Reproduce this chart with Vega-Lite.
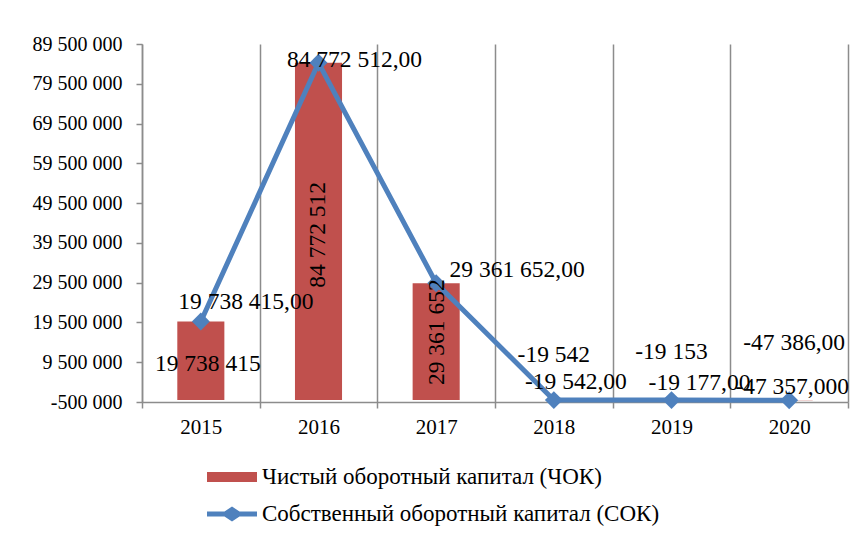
{
  "$schema": "https://vega.github.io/schema/vega-lite/v6.json",
  "width": 706,
  "height": 358,
  "autosize": {"type": "none"},
  "padding": {"left": 142, "top": 44, "right": 15, "bottom": 143},
  "background": "white",
  "config": {
    "locale": {"number": {"decimal": ",", "thousands": " ", "grouping": [3], "currency": ["", ""], "minus": "-"}},
    "view": {"stroke": null},
    "font": "Liberation Serif",
    "text": {"font": "Liberation Serif", "fontSize": 23.5, "color": "black"},
    "axis": {
      "labelFont": "Liberation Serif",
      "labelFontSize": 21,
      "labelColor": "black",
      "domainColor": "#8c8c8c",
      "domainWidth": 1.5,
      "tickColor": "#8c8c8c",
      "tickWidth": 1.5,
      "tickSize": 6,
      "labelOverlap": false,
      "title": null
    }
  },
  "data": {
    "values": [
      {"year": "2015", "series": "Чистый оборотный капитал (ЧОК)", "value": 19738415},
      {"year": "2016", "series": "Чистый оборотный капитал (ЧОК)", "value": 84772512},
      {"year": "2017", "series": "Чистый оборотный капитал (ЧОК)", "value": 29361652},
      {"year": "2018", "series": "Чистый оборотный капитал (ЧОК)", "value": -19542},
      {"year": "2019", "series": "Чистый оборотный капитал (ЧОК)", "value": -19153},
      {"year": "2020", "series": "Чистый оборотный капитал (ЧОК)", "value": -47357},
      {"year": "2015", "series": "Собственный оборотный капитал (СОК)", "value": 19738415},
      {"year": "2016", "series": "Собственный оборотный капитал (СОК)", "value": 84772512},
      {"year": "2017", "series": "Собственный оборотный капитал (СОК)", "value": 29361652},
      {"year": "2018", "series": "Собственный оборотный капитал (СОК)", "value": -19542},
      {"year": "2019", "series": "Собственный оборотный капитал (СОК)", "value": -19177},
      {"year": "2020", "series": "Собственный оборотный капитал (СОК)", "value": -47386}
    ]
  },
  "encoding": {
    "x": {
      "field": "year",
      "type": "nominal",
      "sort": null,
      "scale": {"paddingInner": 0, "paddingOuter": 0},
      "axis": {
        "title": null,
        "labelAngle": 0,
        "tickBand": "extent",
        "grid": true,
        "gridColor": "#8c8c8c",
        "gridWidth": 1.5,
        "labelPadding": 8
      }
    },
    "y": {
      "field": "value",
      "type": "quantitative",
      "scale": {"domain": [-500000, 89500000], "nice": false, "zero": false},
      "axis": {
        "title": null,
        "grid": false,
        "values": [-500000, 9500000, 19500000, 29500000, 39500000, 49500000, 59500000, 69500000, 79500000, 89500000],
        "format": ",d",
        "labelOverlap": false,
        "labelFont": "Liberation Serif",
        "labelFontSize": 20,
        "labelPadding": 14
      }
    }
  },
  "layer": [
    {
      "transform": [{"filter": "test(/ЧОК/, datum.series)"}],
      "mark": {"type": "bar", "width": {"band": 0.4}},
      "encoding": {
        "color": {
          "field": "series",
          "type": "nominal",
          "scale": {
            "domain": ["Чистый оборотный капитал (ЧОК)", "Собственный оборотный капитал (СОК)"],
            "range": ["#C0504D", "#4F81BD"]
          },
          "legend": {
            "orient": "none",
            "legendX": 65,
            "legendY": 408,
            "title": null,
            "padding": 0,
            "labelFont": "Liberation Serif",
            "labelFontSize": 23,
            "labelColor": "black",
            "labelLimit": 0,
            "labelOffset": 5,
            "symbolSize": 2500,
            "rowPadding": 0,
            "encode": {
              "symbols": {
                "update": {
                  "shape": {"signal": "test(/ЧОК/, datum.value) ? 'M-1,-0.2H1V0.2H-1Z' : 'M-1,-0.1H-0.3L0,-0.3L0.3,-0.1H1V0.1H0.3L0,0.3L-0.3,0.1H-1Z'"},
                  "fill": {"signal": "scale('color', datum.value)"},
                  "fillOpacity": {"value": 1},
                  "opacity": {"value": 1},
                  "stroke": {"value": "transparent"},
                  "strokeWidth": {"value": 0}
                }
              }
            }
          }
        }
      }
    },
    {
      "transform": [{"filter": "test(/СОК/, datum.series)"}],
      "mark": {"type": "line", "strokeWidth": 5, "point": {"shape": "diamond", "size": 320, "filled": true}},
      "encoding": {
        "color": {"field": "series", "type": "nominal"}
      }
    },
    {
      "transform": [{"filter": "test(/ЧОК/, datum.series) && datum.year == '2015'"}],
      "mark": {"type": "text", "dx": 7, "dy": 43},
      "encoding": {"text": {"field": "value", "type": "quantitative", "format": ",d"}}
    },
    {
      "transform": [{"filter": "test(/ЧОК/, datum.series) && datum.year == '2016'"}],
      "mark": {"type": "text", "angle": 270, "dx": -172, "dy": -1},
      "encoding": {"text": {"field": "value", "type": "quantitative", "format": ",d"}}
    },
    {
      "transform": [{"filter": "test(/ЧОК/, datum.series) && datum.year == '2017'"}],
      "mark": {"type": "text", "angle": 270, "dx": -49, "dy": 1},
      "encoding": {"text": {"field": "value", "type": "quantitative", "format": ",d"}}
    },
    {
      "transform": [{"filter": "test(/ЧОК/, datum.series) && datum.year == '2018'"}],
      "mark": {"type": "text", "dx": 0, "dy": -45},
      "encoding": {"text": {"field": "value", "type": "quantitative", "format": ",d"}}
    },
    {
      "transform": [{"filter": "test(/ЧОК/, datum.series) && datum.year == '2019'"}],
      "mark": {"type": "text", "dx": 0, "dy": -48},
      "encoding": {"text": {"field": "value", "type": "quantitative", "format": ",d"}}
    },
    {
      "transform": [{"filter": "test(/ЧОК/, datum.series) && datum.year == '2020'"}],
      "mark": {"type": "text", "dx": 3, "dy": -13},
      "encoding": {"text": {"field": "value", "type": "quantitative", "format": ",.3f"}}
    },
    {
      "transform": [{"filter": "test(/СОК/, datum.series) && datum.year == '2015'"}],
      "mark": {"type": "text", "dx": 45, "dy": -19},
      "encoding": {"text": {"field": "value", "type": "quantitative", "format": ",.2f"}}
    },
    {
      "transform": [{"filter": "test(/СОК/, datum.series) && datum.year == '2016'"}],
      "mark": {"type": "text", "dx": 36, "dy": -3},
      "encoding": {"text": {"field": "value", "type": "quantitative", "format": ",.2f"}}
    },
    {
      "transform": [{"filter": "test(/СОК/, datum.series) && datum.year == '2017'"}],
      "mark": {"type": "text", "dx": 81, "dy": -13},
      "encoding": {"text": {"field": "value", "type": "quantitative", "format": ",.2f"}}
    },
    {
      "transform": [{"filter": "test(/СОК/, datum.series) && datum.year == '2018'"}],
      "mark": {"type": "text", "dx": 22, "dy": -18},
      "encoding": {"text": {"field": "value", "type": "quantitative", "format": ",.2f"}}
    },
    {
      "transform": [{"filter": "test(/СОК/, datum.series) && datum.year == '2019'"}],
      "mark": {"type": "text", "dx": 28, "dy": -17},
      "encoding": {"text": {"field": "value", "type": "quantitative", "format": ",.2f"}}
    },
    {
      "transform": [{"filter": "test(/СОК/, datum.series) && datum.year == '2020'"}],
      "mark": {"type": "text", "dx": 5, "dy": -57},
      "encoding": {"text": {"field": "value", "type": "quantitative", "format": ",.2f"}}
    }
  ]
}
